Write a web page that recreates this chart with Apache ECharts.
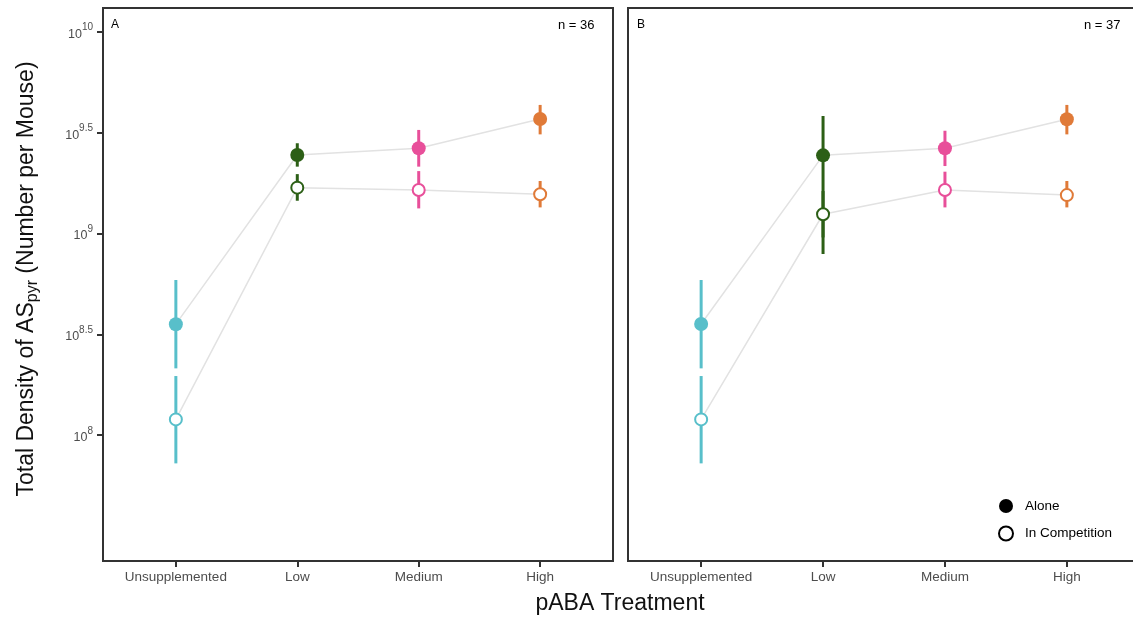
<!DOCTYPE html>
<html>
<head>
<meta charset="utf-8">
<script src="https://cdn.jsdelivr.net/npm/echarts@6/dist/echarts.min.js"></script>
<style>
html,body{margin:0;padding:0;background:#fff;}
#chart{width:1133px;height:619px;}
</style>
</head>
<body>
<div id="chart"></div>
<script>
// Categories and tick labels
const categories = ['Unsupplemented', 'Low', 'Medium', 'High'];
const yTickExponents = [8, 8.5, 9, 9.5, 10];
const catColors = ['#58bfca', '#2c5f16', '#e84f9a', '#e07a38'];

// Values are log10(total density per mouse)
// Panel A (n = 36)
const aloneA    = [8.550, 9.389, 9.422, 9.567];
const aloneA_lo = [8.331, 9.331, 9.331, 9.491];
const aloneA_hi = [8.769, 9.447, 9.513, 9.637];
const compA     = [8.078, 9.227, 9.215, 9.194];
const compA_lo  = [7.860, 9.162, 9.124, 9.129];
const compA_hi  = [8.293, 9.294, 9.309, 9.260];
// Panel B (n = 37)
const aloneB    = [8.551, 9.387, 9.422, 9.566];
const aloneB_lo = [8.331, 8.898, 9.334, 9.491];
const aloneB_hi = [8.769, 9.582, 9.509, 9.637];
const compB     = [8.078, 9.095, 9.215, 9.190];
const compB_lo  = [7.860, 8.980, 9.129, 9.129];
const compB_hi  = [8.293, 9.210, 9.306, 9.260];

const Y_MIN = 7.376, Y_MAX = 10.1175;
const font = 'Liberation Sans, Arial, sans-serif';

function xAxisDef(gridIndex) {
  return {
    type: 'value', gridIndex: gridIndex, min: -0.6, max: 3.6,
    splitLine: {show: false}, axisLine: {show: false, onZero: false},
    axisTick: {show: true, customValues: [0, 1, 2, 3], length: 6, lineStyle: {color: '#333', width: 2}},
    axisLabel: {show: true, customValues: [0, 1, 2, 3], margin: 9,
      formatter: v => categories[Math.round(v)], fontSize: 13.5, color: '#4d4d4d', fontFamily: font}
  };
}
function yAxisDef(gridIndex, showLabels) {
  return {
    type: 'value', gridIndex: gridIndex, min: Y_MIN, max: Y_MAX,
    splitLine: {show: false}, axisLine: {show: false, onZero: false},
    axisTick: {show: showLabels, customValues: yTickExponents, length: 6, lineStyle: {color: '#333', width: 2}},
    axisLabel: {show: showLabels, customValues: yTickExponents, margin: 10,
      formatter: v => '{b|10}{s|' + String(v) + '}',
      rich: {
        b: {fontSize: 12.5, color: '#4d4d4d', fontFamily: font, padding: [5, 0, 0, 0]},
        s: {fontSize: 10, color: '#4d4d4d', fontFamily: font, padding: [0, 0, 8, 0]}
      }
    }
  };
}

function lineSeries(idx, vals) {
  return {
    type: 'line', xAxisIndex: idx, yAxisIndex: idx, z: 1, silent: true,
    symbol: 'none', lineStyle: {color: '#e2e2e2', width: 1.5},
    data: vals.map((v, i) => [i, v])
  };
}
function errSeries(idx, lo, hi) {
  return {
    type: 'custom', xAxisIndex: idx, yAxisIndex: idx, z: 2, silent: true,
    data: lo.map((l, i) => [i, l, hi[i]]),
    encode: {x: 0, y: [1, 2]},
    renderItem: function (params, api) {
      const p1 = api.coord([api.value(0), api.value(1)]);
      const p2 = api.coord([api.value(0), api.value(2)]);
      return {type: 'line', shape: {x1: p1[0], y1: p1[1], x2: p2[0], y2: p2[1]},
        style: {stroke: catColors[api.value(0)], lineWidth: 3}};
    }
  };
}
function pointSeries(idx, vals, filled, name) {
  return {
    type: 'scatter', name: name, xAxisIndex: idx, yAxisIndex: idx, z: 3,
    symbol: 'circle', symbolSize: filled ? 14 : 12,
    data: vals.map((v, i) => ({
      value: [i, v],
      itemStyle: filled ? {color: catColors[i], opacity: 1} : {color: '#fff', borderColor: catColors[i], borderWidth: 2, opacity: 1}
    }))
  };
}

const chart = echarts.init(document.getElementById('chart'));
chart.setOption({
  animation: false,
  backgroundColor: '#fff',
  grid: [
    {left: 103, top: 8, width: 510, height: 553, show: true, borderColor: '#333', borderWidth: 2,
     backgroundColor: 'transparent', outerBoundsMode: 'none', containLabel: false},
    {left: 628, top: 8, width: 512, height: 553, show: true, borderColor: '#333', borderWidth: 2,
     backgroundColor: 'transparent', outerBoundsMode: 'none', containLabel: false}
  ],
  xAxis: [xAxisDef(0), xAxisDef(1)],
  yAxis: [yAxisDef(0, true), yAxisDef(1, false)],
  legend: {
    orient: 'vertical', left: 993, top: 494, itemWidth: 28, itemHeight: 14, itemGap: 12.5,
    textStyle: {fontSize: 13.5, color: '#000', fontFamily: font},
    data: [
      {name: 'Alone', icon: 'circle', itemStyle: {color: '#000', opacity: 1}},
      {name: 'In Competition', icon: 'circle', itemStyle: {color: '#fff', borderColor: '#000', borderWidth: 2, opacity: 1}}
    ]
  },
  series: [
    lineSeries(0, aloneA), lineSeries(0, compA),
    lineSeries(1, aloneB), lineSeries(1, compB),
    errSeries(0, compA_lo, compA_hi), errSeries(0, aloneA_lo, aloneA_hi),
    errSeries(1, compB_lo, compB_hi), errSeries(1, aloneB_lo, aloneB_hi),
    pointSeries(0, aloneA, true, 'Alone'), pointSeries(0, compA, false, 'In Competition'),
    pointSeries(1, aloneB, true, 'Alone'), pointSeries(1, compB, false, 'In Competition')
  ],
  graphic: [
    {type: 'text', left: 111, top: 19, style: {text: 'A', fontSize: 12, fill: '#000', fontFamily: font}},
    {type: 'text', left: 558, top: 19, style: {text: 'n = 36', fontSize: 13, fill: '#000', fontFamily: font}},
    {type: 'text', left: 637, top: 19, style: {text: 'B', fontSize: 12, fill: '#000', fontFamily: font}},
    {type: 'text', left: 1084, top: 19, style: {text: 'n = 37', fontSize: 13, fill: '#000', fontFamily: font}},
    {type: 'text', x: 620, y: 604, style: {text: 'pABA Treatment', fontSize: 23, fill: '#111', fontFamily: font, align: 'center', verticalAlign: 'middle'}},
    {type: 'text', x: 27, y: 279, rotation: Math.PI / 2,
      style: {
        text: '{m|Total Density of AS}{s|pyr}{m| (Number per Mouse)}',
        align: 'center', verticalAlign: 'middle',
        rich: {
          m: {fontSize: 23, fill: '#111', fontFamily: font},
          s: {fontSize: 16, fill: '#111', fontFamily: font, padding: [12, 0, 0, 0]}
        }
      }
    }
  ]
});
</script>
</body>
</html>
